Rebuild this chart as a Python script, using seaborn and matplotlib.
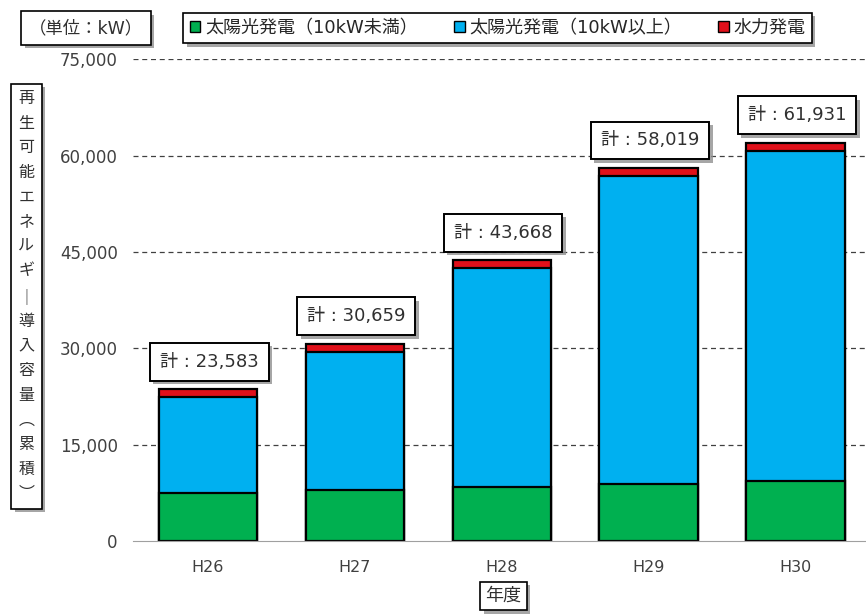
import numpy as np
import pandas as pd
import matplotlib
matplotlib.use("Agg")
import matplotlib.pyplot as plt
import matplotlib.patheffects as pe
from matplotlib.patches import Patch
import seaborn as sns

years = ["H26", "H27", "H28", "H29", "H30"]
solar_small = [7500, 7950, 8400, 8850, 9350]      # 太陽光発電（10kW未満）
solar_large = [14893, 21519, 34078, 47969, 51341]  # 太陽光発電（10kW以上）
hydro = [1190, 1190, 1190, 1200, 1240]             # 水力発電
totals = [23583, 30659, 43668, 58019, 61931]

labels = ["太陽光発電（10kW未満）", "太陽光発電（10kW以上）", "水力発電"]
colors = ["#00B050", "#00B0F0", "#E0101A"]

sns.set_style("white")
plt.rcParams["font.family"] = ["DejaVu Sans", "Noto Sans CJK JP"]

df = pd.DataFrame({"year": years, "small": solar_small,
                   "large": solar_large, "hydro": hydro})
df["lvl1"] = df["small"]
df["lvl2"] = df["small"] + df["large"]
df["lvl3"] = df["lvl2"] + df["hydro"]

fig = plt.figure(figsize=(8.66, 6.16), dpi=100)
ax = fig.add_axes([0.1536, 0.1218, 0.8464, 0.7822])

# stacked bars drawn tallest first
for col, c in zip(["lvl3", "lvl2", "lvl1"], colors[::-1]):
    sns.barplot(data=df, x="year", y=col, color=c, width=0.67,
                edgecolor="black", linewidth=1.6, saturation=1, ax=ax,
                zorder=3)

ax.set_ylim(0, 75000)
ax.set_xlim(-0.51, 4.48)
ax.set_yticks(np.arange(0, 75001, 15000))
ax.set_yticklabels([f"{v:,}" for v in range(0, 75001, 15000)],
                   fontsize=12, color="#404040")
ax.set_xticks(range(5))
ax.set_xticklabels(years, fontsize=11.5, color="#404040")
ax.set_xticks(np.arange(0.5, 4.5, 1), minor=True)
ax.tick_params(axis="x", which="major", length=0, pad=14)
ax.tick_params(axis="x", which="minor", length=4, direction="in", color="#808080")
ax.tick_params(axis="y", length=4, direction="out", color="#808080", pad=7)
ax.set_xlabel("")
ax.set_ylabel("")
for g in np.arange(15000, 75001, 15000):
    ax.axhline(g, color="#404040", linestyle=(0, (4, 3)), linewidth=0.9, zorder=1)
for s in ["top", "right", "left"]:
    ax.spines[s].set_visible(False)
ax.spines["bottom"].set_color("#a0a0a0")
ax.spines["bottom"].set_zorder(4)

shadow = [pe.SimplePatchShadow(offset=(2.5, -2.5), shadow_rgbFace="#909090", alpha=0.8),
          pe.Normal()]

# total labels
for i, t in enumerate(totals):
    txt = ax.annotate(f"計 : {t:,}", xy=(i, t), xytext=(1, 20),
                      textcoords="offset points", ha="center", va="center",
                      fontsize=13, color="#303030", zorder=6,
                      bbox=dict(boxstyle="square,pad=0.55", fc="white",
                                ec="black", lw=1.4))
    txt.get_bbox_patch().set_path_effects(shadow)

# unit box
t = fig.text(0.0993, 0.9545, "（単位：kW）", ha="center", va="center",
             fontsize=12.5, color="#303030",
             bbox=dict(boxstyle="square,pad=0.45", fc="white", ec="black", lw=1.2))
t.get_bbox_patch().set_path_effects(shadow)

# legend
handles = [Patch(facecolor=c, edgecolor="black", linewidth=1.0) for c in colors]
leg = fig.legend(handles, labels, loc="center", bbox_to_anchor=(0.5745, 0.9545),
                 ncol=3, frameon=True, fancybox=False, shadow=False, framealpha=1,
                 fontsize=13, handlelength=0.6, handleheight=0.6,
                 handletextpad=0.25, columnspacing=2.0, borderpad=0.35)
leg.get_frame().set_edgecolor("black")
leg.get_frame().set_linewidth(1.2)
leg.get_frame().set_path_effects(shadow)

# vertical y-axis label
ylabel_chars = list("再生可能エネルギ") + ["｜"] + list("導入容量") + ["︵", "累", "積", "︶"]
t = fig.text(0.0305, 0.519, "\n".join(ylabel_chars), ha="center", va="center",
             fontsize=11.5, color="#303030", linespacing=1.8,
             bbox=dict(boxstyle="square,pad=0.45", fc="white", ec="black", lw=1.2))
t.get_bbox_patch().set_path_effects(shadow)

# x-axis label
t = fig.text(0.5815, 0.0325, "年度", ha="center", va="center",
             fontsize=13, color="#303030",
             bbox=dict(boxstyle="square,pad=0.3", fc="white", ec="black", lw=1.2))
t.get_bbox_patch().set_path_effects(shadow)

fig.savefig("out.png", dpi=100)
